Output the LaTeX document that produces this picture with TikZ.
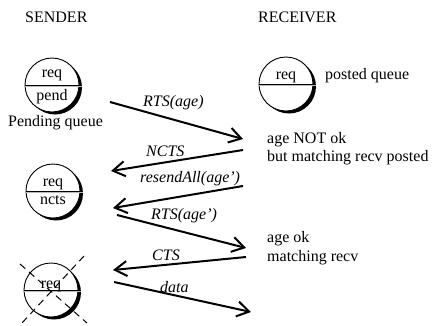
\documentclass[tikz,border=0pt]{standalone}
\usepackage{fontspec}
\setmainfont{Liberation Serif}
\usetikzlibrary{arrows.meta,shadows}
\begin{document}
\begin{tikzpicture}[x=1pt,y=-1pt,
  every node/.style={font=\fontsize{16}{19}\selectfont, inner sep=0pt},
  txt/.style={anchor=base west},
  lbl/.style={anchor=base west, font=\fontsize{16}{19}\selectfont\itshape},
  queue/.style={circle, draw, line width=0.9pt, fill=white, minimum size=54pt,
    drop shadow={shadow xshift=3pt, shadow yshift=-2.5pt, opacity=1, fill=black}},
  msg/.style={line width=2pt, -{Straight Barb[length=12pt,width=15pt]}},
  divgray/.style={draw=gray!55, line width=1pt}]
\useasboundingbox (0,0) rectangle (432,325);

\node[txt] (sender) at (25,22) {SENDER};
\node[txt] (receiver) at (258,22) {RECEIVER};

% queues
\node[queue] (q1) at (52,85) {};
\node[queue] (qr) at (286,84) {};
\node[queue] (q2) at (53,191) {};
\node[queue] (q3) at (51,290) {};

\foreach \q in {q1,qr,q2,q3}{
  \draw[divgray] ([yshift=-1.3pt]\q.west) -- ([xshift=3pt,yshift=-1.3pt]\q.east);
  \draw[line width=0.8pt] (\q.west) -- (\q.east);
}

\node[anchor=base] (q1a) at (52,77) {req};
\node[anchor=base] (q1b) at (52,100) {pend};
\node[txt] (pq) at (8,126) {Pending queue};
\node[anchor=base] (qra) at (286,79) {req};
\node[txt] (posted) at (325,79) {posted queue};
\node[anchor=base] (q2a) at (53,186) {req};
\node[anchor=base] (q2b) at (53,204) {ncts};
\node[anchor=base] (q3a) at (51,288) {req};

% cross over last queue
\coordinate (c1) at (20,264);
\coordinate (c2) at (87,323);
\coordinate (c3) at (84,256);
\coordinate (c4) at (22,323);
\draw[line width=1pt, dash pattern=on 7pt off 5pt] (c1) -- (c2);
\draw[line width=1pt, dash pattern=on 7pt off 5pt] (c3) -- (c4);

% receiver texts
\node[txt] (r1) at (267,143) {age NOT ok};
\node[txt] (r2) at (267,161) {but matching recv posted};
\node[txt] (r3) at (267,242) {age ok};
\node[txt] (r4) at (267,261) {matching recv};

% message endpoints
\coordinate (a1s) at (110,102);
\coordinate (a1e) at (243,139);
\coordinate (a2s) at (243,150);
\coordinate (a2e) at (111,171);
\coordinate (a3s) at (243,186);
\coordinate (a3e) at (113,208);
\coordinate (a4s) at (117,215);
\coordinate (a4e) at (246,248);
\coordinate (a5s) at (246,257);
\coordinate (a5e) at (113,270);
\coordinate (a6s) at (114,282);
\coordinate (a6e) at (251,312);

\draw[msg] (a1s) -- (a1e);
\draw[msg] (a2s) -- (a2e);
\draw[msg] (a3s) -- (a3e);
\draw[msg] (a4s) -- (a4e);
\draw[msg] (a5s) -- (a5e);
\draw[msg] (a6s) -- (a6e);

\node[lbl] (l1) at (143,106) {RTS(age)};
\node[lbl] (l2) at (146,156) {NCTS};
\node[lbl] (l3) at (140,182) {resendAll(age')};
\node[lbl] (l4) at (151,219) {RTS(age')};
\node[lbl] (l5) at (152,260) {CTS};
\node[lbl] (l6) at (160,292) {data};
\end{tikzpicture}
\end{document}
